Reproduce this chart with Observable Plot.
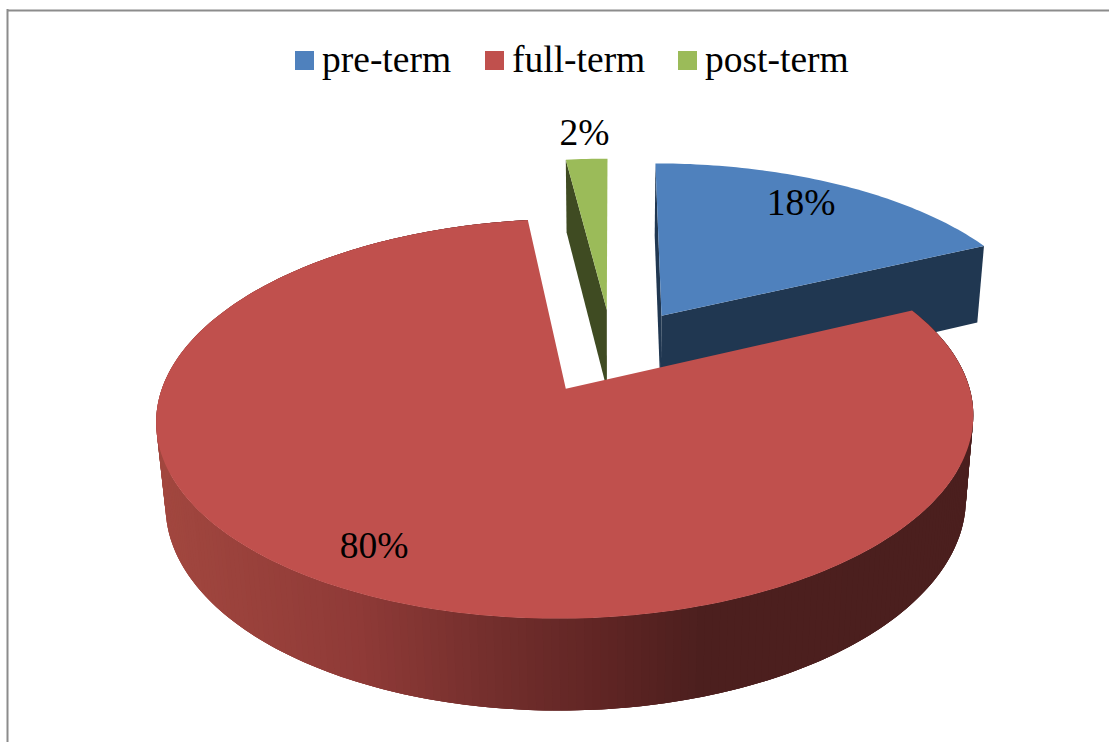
<!DOCTYPE html>
<html><head><meta charset="utf-8">
<script src="https://cdn.jsdelivr.net/npm/d3@7"></script>
<script src="https://cdn.jsdelivr.net/npm/@observablehq/plot@0.6"></script>
<style>html,body{margin:0;padding:0;background:#fff;overflow:hidden}svg{display:block}</style>
</head><body><div id="chart"></div>
<script>
const categories = ["pre-term", "full-term", "post-term"];
const shares = [18, 80, 2];
const topColors = ["#4f81bd", "#c0504d", "#9bbb59"];
const sideColors = ["#203751", "#4b1f1e", "#3f4b22"];
const rimStops = [165, 363, 500, 600, 700, 975];
const rimColors = ["#a2473f", "#8f3a37", "#722e2c", "#602524", "#4c1f1e", "#4b1f1e"];

const W = 1109, H = 742;
const view = {cx: 612, cy: 350, A: 392, B: 184, D: 83, p: 0.146, q: 0.02, explodeU: 0.24, explodeV: 0.23};
const rad = d => d * Math.PI / 180;

// Perspective of a point on the tilted pie: u right, v back, z 0 = top, 1 = bottom
function project(u, v, z) {
  const w = 1 + view.p * v + view.q * z;
  return [view.cx + view.A * u / w, view.cy + (-view.B * v + view.D * z) / w];
}
let acc = 0;
const slices = categories.map((name, i) => {
  const a0 = acc * 3.6, a1 = (acc + shares[i]) * 3.6;
  acc += shares[i];
  const mid = rad((a0 + a1) / 2);
  return {name, i, a0, a1, u0: view.explodeU * Math.sin(mid), v0: view.explodeV * Math.cos(mid)};
});
const rim = (s, a, z) => project(s.u0 + Math.sin(rad(a)), s.v0 + Math.cos(rad(a)), z);
const apex = (s, z) => project(s.u0, s.v0, z);
const steps = (a0, a1, n) => d3.range(n + 1).map(k => a0 + (a1 - a0) * k / n);

const polys = [];
const add = (id, c, pts) => pts.forEach(([x, y]) => polys.push({id, c, x, y}));
const cutFace = (s, a, id) => add(id, sideColors[s.i], [apex(s, 0), rim(s, a, 0), rim(s, a, 1), apex(s, 1)]);
const topFace = (s, id) => add(id, topColors[s.i], [apex(s, 0), ...steps(s.a0, s.a1, Math.ceil(s.a1 - s.a0)).map(a => rim(s, a, 0))]);

const [blue, red, green] = slices;
cutFace(blue, blue.a0, "blue-left");
cutFace(blue, blue.a1, "blue-right");
topFace(blue, "blue-top");
cutFace(green, green.a0, "green-left");
topFace(green, "green-top");
const shade = d3.scaleLinear().domain(rimStops).range(rimColors).clamp(true);
const arc = steps(red.a0, red.a1, 288);
arc.slice(0, -1).forEach((a0, k) => {
  // each strip runs on under the next one so no seams show between them
  const a1 = arc[Math.min(k + 3, arc.length - 1)];
  const a = arc[k + 1];
  add("rim" + k, d3.color(shade(rim(red, (a0 + a) / 2, 1)[0])).formatHex(),
    [rim(red, a0, 0), rim(red, a, 0), rim(red, a1, 0), rim(red, a1, 1), rim(red, a, 1), rim(red, a0, 1)]);
});
topFace(red, "red-top");

const labels = [
  {t: shares[0] + "%", x: 800.5, y: 202.5},
  {t: shares[1] + "%", x: 373.5, y: 545.5},
  {t: shares[2] + "%", x: 584, y: 132.5}
];
const legendSwatchX = [295, 485, 678];
const legend = categories.map((name, i) => ({name, x: legendSwatchX[i], c: topColors[i]}));

const font = "'Liberation Serif','Times New Roman',serif";
const plot = Plot.plot({
  width: W, height: H, margin: 0,
  x: {domain: [0, W], range: [0, W], axis: null},
  y: {domain: [0, H], range: [0, H], axis: null},
  color: {type: "identity"},
  style: {background: "#fff"},
  marks: [
    Plot.ruleY([10], {x1: 7, x2: W, stroke: "#8c8c8c", strokeWidth: 2}),
    Plot.ruleX([7], {y1: 9, y2: H, stroke: "#8c8c8c", strokeWidth: 2}),
    Plot.line(polys, {x: "x", y: "y", z: "id", fill: "c"}),
    Plot.text(labels, {x: "x", y: "y", text: "t", fontSize: 37.5, fontFamily: font, fill: "#000"}),
    Plot.rect(legend, {x1: "x", x2: d => d.x + 19, y1: 51, y2: 70, fill: "c"}),
    Plot.text(legend, {x: d => d.x + 26.5, y: 59.5, text: "name", textAnchor: "start", fontSize: 37.5, fontFamily: font, fill: "#000"})
  ]
});
document.getElementById("chart").appendChild(plot);
</script></body></html>
